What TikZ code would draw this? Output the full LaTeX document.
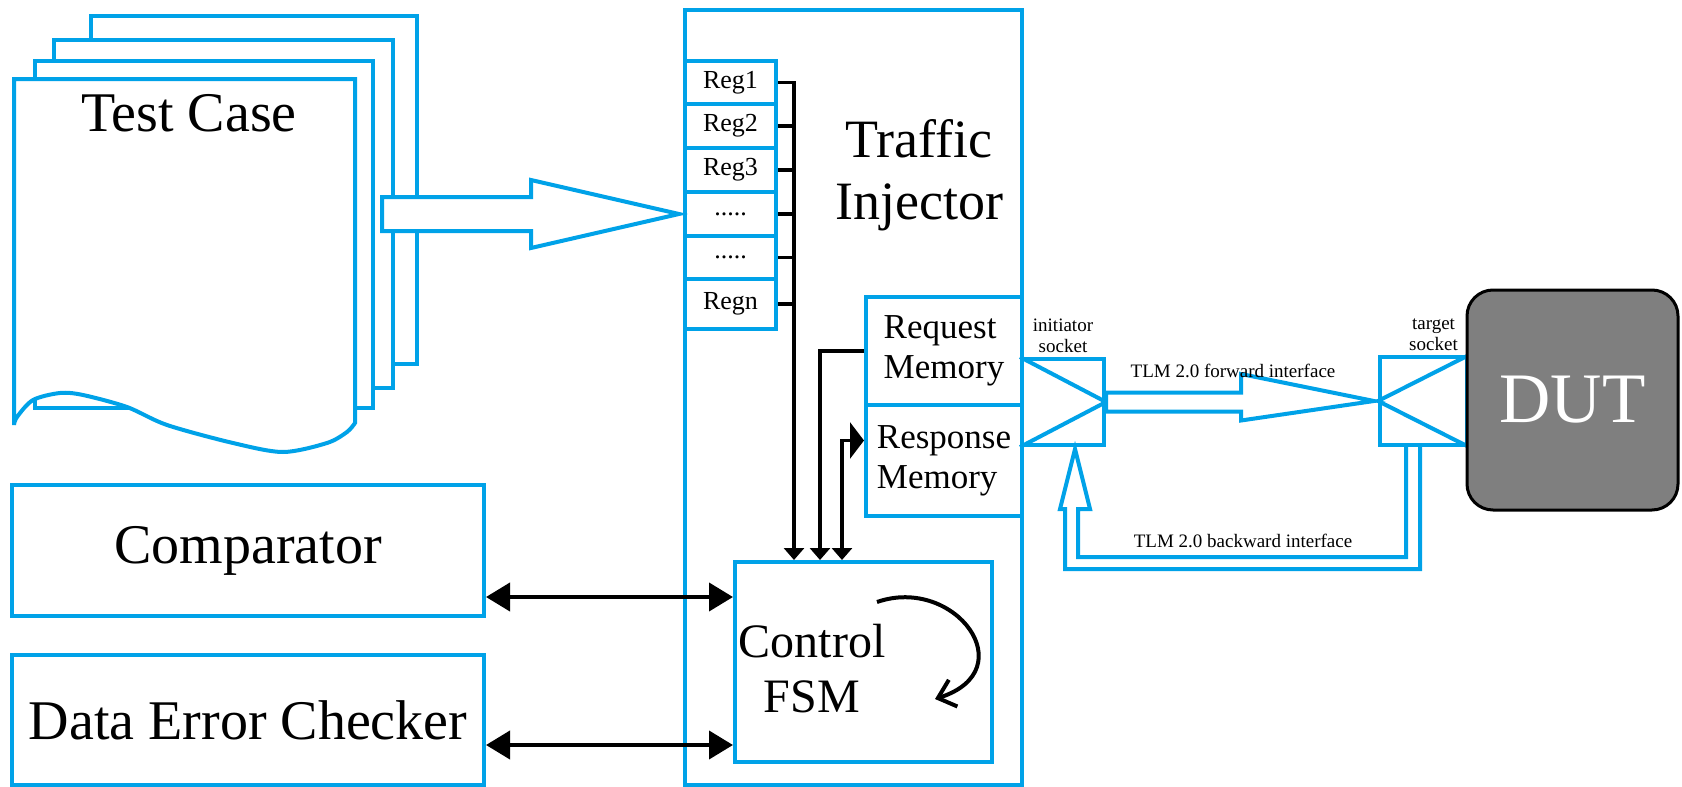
\documentclass[tikz,border=0pt]{standalone}
\usepackage{fontspec}
\setmainfont{Liberation Serif}
\usetikzlibrary{arrows.meta, calc, positioning}
\definecolor{tiblue}{RGB}{0, 162, 232}
\definecolor{dutgray}{RGB}{127, 127, 127}

\begin{document}
\begin{tikzpicture}[x=0.5pt, y=-0.5pt,
  blueline/.style={draw=tiblue, line width=2pt},
  bluebox/.style={blueline, fill=white, rectangle, inner sep=0pt},
  regbox/.style={bluebox, minimum width=45.5pt, font=\fontsize{13}{15}\selectfont},
  memtext/.style={font=\fontsize{17.5}{20}\selectfont, align=left},
  bigtext/.style={font=\fontsize{28}{32}\selectfont},
  smalltext/.style={font=\fontsize{9.5}{10.5}\selectfont, align=center, inner sep=0pt},
  wire/.style={line width=1.6pt},
  busarrow/.style={wire, -{Triangle[length=6pt, width=10pt]}},
  biarrow/.style={line width=2pt, {Triangle[length=12pt, width=14pt]}-{Triangle[length=12pt, width=14pt]}}]

\useasboundingbox (0,0) rectangle (1682,787);

% === Test Case (stack of pages) ===
\draw[blueline, fill=white] (91,16) rectangle (417,364);
\draw[blueline, fill=white] (54,40) rectangle (393,388);
\draw[blueline, fill=white] (35,61) rectangle (373,408);
\draw[blueline, fill=white] (14,425) -- (14,79) -- (355,79)
  -- plot[smooth] coordinates {(355,423) (347,432) (327,443) (283,452) (233,443) (167,425)
     (127,407) (83,395) (60,393) (33,400) (17,417) (14,425)} -- cycle;
\node[bigtext] (tc) at (189,113.5) {Test Case};

% === Traffic Injector ===
\node[bluebox, minimum width=168.5pt, minimum height=387.5pt] (ti) at (853.5,397.5) {};
\node[font=\fontsize{27}{31}\selectfont, align=center] (titext) at (919,175) {Traffic\\Injector};

% Registers
\node[regbox, minimum height=21.5pt] (reg1) at (730.5,82.5) {Reg1};
\node[regbox, minimum height=22pt] (reg2) at (730.5,126) {Reg2};
\node[regbox, minimum height=22pt] (reg3) at (730.5,170) {Reg3};
\node[regbox, minimum height=22pt] (reg4) at (730.5,214) {.....};
\node[regbox, minimum height=21.5pt] (reg5) at (730.5,257.5) {.....};
\node[regbox, minimum height=25pt] (regn) at (730.5,304) {Regn};

% Memories
\node[bluebox, memtext, minimum width=78pt, minimum height=54pt] (reqmem) at (944,351) {Request\\Memory};
\node[bluebox, memtext, minimum width=78pt, minimum height=55.5pt] (respmem) at (944,460.5) {Response\\Memory};

% Control FSM
\node[bluebox, minimum width=128.5pt, minimum height=100pt] (fsm) at (863.5,662) {};
\node[font=\fontsize{24}{27.5}\selectfont, align=center] (fsmtext) at (812,669) {Control\\FSM};
\draw[line width=2pt, -{Straight Barb[length=8pt, width=14pt]}] ($(fsm.center)+(13.5,-60)$)
  .. controls ($(fsm.center)+(91.5,-87)$) and ($(fsm.center)+(161.5,8)$) .. ($(fsm.center)+(71.5,37)$);

% Register bus
\coordinate (bus) at (794,0);
\draw[busarrow] (reg1.east) -- (reg1.east -| bus) -- (bus |- fsm.north);
\foreach \r in {reg2,reg3,reg4,reg5,regn}
  \draw[wire] (\r.east) -- (\r.east -| bus);
\draw[busarrow] (reqmem.west) -| ($(fsm.north west)+(87,0)$);
\draw[wire, {Triangle[length=6pt, width=10pt]}-{Triangle[length=7pt, width=18pt]}]
  ($(fsm.north west)+(109,0)$) |- ($(respmem.west)+(0,-20)$);

% Test case -> registers
\draw[blueline, fill=white] ($(reg4.west)+(-4,0)$) coordinate (tctip) -- ++(-148,-34) -- ++(0,17)
  -- ++(-149,0) -- ++(0,34) -- ++(149,0) -- ++(0,17) -- cycle;

% === Comparator / checker ===
\node[bluebox, bigtext, minimum width=236pt, minimum height=65.5pt] (comp) at (248,550.5) {Comparator};
\node[bluebox, bigtext, minimum width=236pt, minimum height=65pt] (dec) at (248,720) {Data Error Checker};
\draw[biarrow] ($(comp.east)+(0,46.5)$) coordinate (c1) -- (c1 -| fsm.west);
\draw[biarrow] ($(dec.east)+(0,25)$) coordinate (d1) -- (d1 -| fsm.west);

% === Sockets and DUT ===
\node[bluebox, minimum width=41pt, minimum height=43pt] (isock) at (1063,402) {};
\draw[blueline] (isock.north west) -- (isock.east) -- (isock.south west);
\node[smalltext, above=2pt of isock] (ilabel) {initiator\\socket};

\node[bluebox, minimum width=43.5pt, minimum height=44pt] (tsock) at (1423.5,401) {};
\draw[blueline] (tsock.north east) -- (tsock.west) -- (tsock.south east);
\node[smalltext, above=2pt of tsock, xshift=5pt] (tlabel) {target\\socket};

\node[draw=black, line width=1.5pt, fill=dutgray, rounded corners=13pt, minimum width=105.5pt,
  minimum height=110pt, text=white, font=\fontsize{35.5}{40}\selectfont] (dut) at (1572.5,400) {DUT};

% forward interface
\draw[blueline, fill=white] ($(isock.east)+(0,-9.5)$) -- +(135,0) -- +(135,-18.5)
  -- ($(tsock.west)+(-4,0)$) -- ($(isock.east)+(135,18.5)$) -- +(0,-9) -- ($(isock.east)+(0,9.5)$) -- cycle;
\node[smalltext] (fwlabel) at (1233,371) {TLM 2.0 forward interface};

% backward interface
\draw[blueline] ($(tsock.south)+(-3.5,0)$) -- ($(tsock.south)+(-3.5,122)$) -- ($(isock.south)+(2,122)$)
  -- ($(isock.south)+(2,62)$) -- ($(isock.south)+(-3,62)$) -- ($(isock.south)+(12,2)$)
  -- ($(isock.south)+(27,62)$) -- ($(isock.south)+(15,62)$) -- ($(isock.south)+(15,110)$)
  -- ($(tsock.south)+(-17.5,110)$) -- ($(tsock.south)+(-17.5,0)$);
\node[smalltext] (bwlabel) at (1243,541) {TLM 2.0 backward interface};

\end{tikzpicture}
\end{document}
